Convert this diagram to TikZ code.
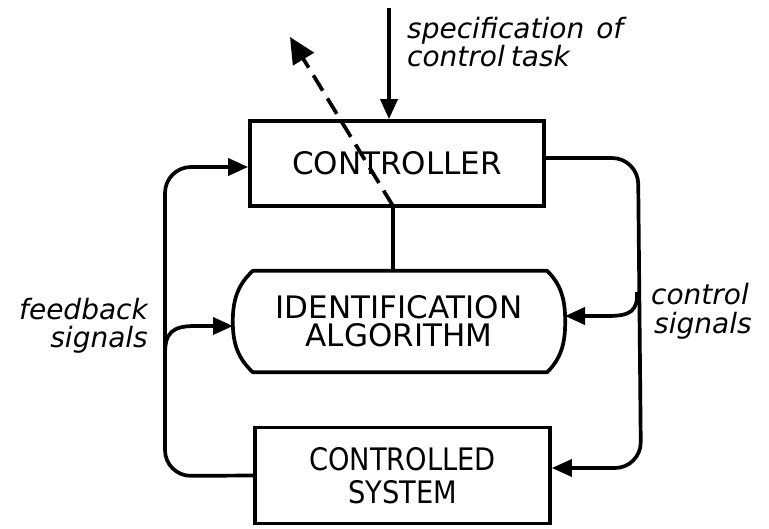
\documentclass[tikz,border=0pt]{standalone}
\usepackage{fontspec}
\setmainfont{DejaVu Sans}
\usetikzlibrary{arrows.meta,calc}
\begin{document}
\begin{tikzpicture}[x=1pt,y=-1pt,
  wire/.style={line width=3.7pt},
  tip/.style={-{Triangle[length=20pt,width=17pt]}},
  bigtip/.style={-{Triangle[length=26pt,width=24pt]}},
  block/.style={draw,line width=3.7pt,inner sep=0pt,align=center,
    font=\fontsize{31}{28}\selectfont},
  lbl/.style={inner sep=0pt,font=\fontsize{28}{28}\selectfont\itshape}]
\useasboundingbox (0,0) rectangle (769,529);

% blocks
\node[block,minimum width=294pt,minimum height=85pt] (ctrl) at (397,163.5) {CONTROLLER};
\node[inner sep=0pt,minimum width=332pt,minimum height=101pt,align=center,
  font=\fontsize{31}{28}\selectfont] (ident) at (399,321.5)
  {IDENTIFICATION\\ALGORITHM};
\node[block,minimum width=295pt,minimum height=96pt,
  font=\fontsize{31}{33}\selectfont] (sys) at (402.5,475.5)
  {\scalebox{0.88}[1]{CONTROLLED}\\\scalebox{0.88}[1]{SYSTEM}};

% outline of the identification block: flat top and bottom, bulging sides
\draw[wire,line join=round]
  ($(ident.north west)+(20,0)$) -- ($(ident.north east)+(-18,0)$)
  .. controls ($(ident.north east)+(-4,14)$) and ($(ident.east)+(0,-22)$) .. (ident.east)
  .. controls ($(ident.east)+(0,22)$) and ($(ident.south east)+(-4,-14)$) .. ($(ident.south east)+(-18,0)$)
  -- ($(ident.south west)+(20,0)$)
  .. controls ($(ident.south west)+(5,-14)$) and ($(ident.west)+(0,22)$) .. (ident.west)
  .. controls ($(ident.west)+(0,-22)$) and ($(ident.north west)+(5,14)$) .. cycle;

% labels
\node[lbl,anchor=base west] (spec1) at (407,39) {specification\hspace{12pt}of};
\node[lbl,anchor=base west] (spec2) at (407,67) {control\hspace{6pt}task};
\node[lbl,anchor=base east] (fb1) at (148,320) {feedback};
\node[lbl,anchor=base east] (fb2) at (148,348) {signals};
\node[lbl,anchor=base west] (cs1) at (651,305) {control};
\node[lbl,anchor=base west] (cs2) at (654,334) {signals};

% junction points
\coordinate (top) at (389,8);
\coordinate (j) at (393,206);
\coordinate (away) at (290,37);
\coordinate (lb) at (165,476);
\coordinate (lt) at (165,167);
\coordinate (rt) at (638,158);
\coordinate (rb) at (641,468);

% task specification into the controller
\draw[wire,tip] (top) -- (top |- ctrl.north);
% outgoing dashed arrow from the controller
\draw[wire,bigtip,dash pattern=on 18pt off 9pt] (j) -- (away);
% controller to identification algorithm
\draw[wire] (j) -- (j |- ident.north);

% feedback loop on the left
\draw[wire,tip,rounded corners=26pt] (sys.west) -- (lb) -- (lt) -- (lt -| ctrl.west);
\draw[wire,tip] (165,354) .. controls (165,333) and (172,326) .. (195,326) -- (233,326);

% control loop on the right
\draw[wire,tip,rounded corners=26pt] (rt -| ctrl.east) -- (rt) -- (rb) -- (rb -| sys.east);
\draw[wire,tip] (637,292) .. controls (638,311) and (630,316) .. (608,316) -- (565,316);
\end{tikzpicture}
\end{document}
